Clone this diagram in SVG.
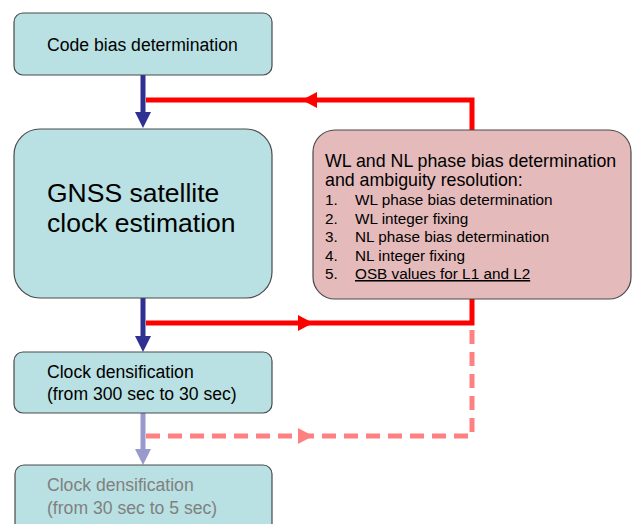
<svg xmlns="http://www.w3.org/2000/svg" width="632" height="524" viewBox="0 0 632 524">
<style>
.box{fill:#b9e0e2;stroke:#4a4a4a;stroke-width:1.2}
.pink{fill:#e4baba;stroke:#4a4a4a;stroke-width:1.2}
text{font-family:"Liberation Sans",Arial,sans-serif;fill:#000}
.s15{font-size:17.6px}
.s13{font-size:15.3px}
.grey{fill:#808080}
.blue{stroke:#2e3192;stroke-width:5;fill:none}
.lblue{stroke:#9999cc;stroke-width:5;fill:none}
.red{stroke:#ff0000;stroke-width:5;fill:none}
.lred{stroke:#ff8080;stroke-width:5;fill:none;stroke-dasharray:14,8}
</style>
<rect width="632" height="524" fill="#fff"/>
<g id="connectors">
  <line class="blue" x1="143" y1="75" x2="143" y2="114"/>
  <polygon points="135,112 151,112 143,128" fill="#2e3192"/>
  <polyline class="red" points="146,100 472,100 472,131"/>
  <polygon points="317,92 317,108 302,100" fill="#ff0000"/>
  <line class="blue" x1="143" y1="298" x2="143" y2="338"/>
  <polygon points="135,336 151,336 143,352" fill="#2e3192"/>
  <polyline class="red" points="146,323 472,323 472,298"/>
  <polygon points="298,315 298,331 313,323" fill="#ff0000"/>
  <line class="lblue" x1="143" y1="413" x2="143" y2="451"/>
  <polygon points="135,449 151,449 143,465" fill="#9999cc"/>
  <polyline class="lred" points="146,436 472,436 472,326"/>
  <polygon points="298,428 298,444 313,436" fill="#ff8080"/>
</g>
<g id="code-bias">
  <rect class="box" x="14" y="13" width="258" height="62" rx="9"/>
  <text class="s15" x="47" y="51">Code bias determination</text>
</g>
<g id="gnss-clock">
  <rect class="box" x="14" y="129" width="258" height="169" rx="26"/>
  <text x="47" y="202" font-size="26.5">GNSS satellite</text>
  <text x="47" y="232" font-size="26.5">clock estimation</text>
</g>
<g id="wl-nl">
  <rect class="pink" x="313" y="130" width="318" height="169" rx="22"/>
  <text x="325" y="167" font-size="17.8">WL and NL phase bias determination</text>
  <text x="325" y="186" font-size="17.8">and ambiguity resolution:</text>
  <text class="s13" x="325" y="205">1.</text><text class="s13" x="355" y="205">WL phase bias determination</text>
  <text class="s13" x="325" y="224">2.</text><text class="s13" x="355" y="224">WL integer fixing</text>
  <text class="s13" x="325" y="242">3.</text><text class="s13" x="355" y="242">NL phase bias determination</text>
  <text class="s13" x="325" y="261">4.</text><text class="s13" x="355" y="261">NL integer fixing</text>
  <text class="s13" x="325" y="279">5.</text><text class="s13" x="355" y="279" text-decoration="underline">OSB values for L1 and L2</text>
</g>
<g id="densify-30">
  <rect class="box" x="14" y="352" width="258" height="61" rx="9"/>
  <text class="s15" x="47" y="378">Clock densification</text>
  <text class="s15" x="47" y="400">(from 300 sec to 30 sec)</text>
</g>
<g id="densify-5">
  <rect class="box" x="15" y="465" width="257" height="70" rx="9"/>
  <text class="s15 grey" x="47" y="491">Clock densification</text>
  <text class="s15 grey" x="47" y="514">(from 30 sec to 5 sec)</text>
</g>
</svg>
